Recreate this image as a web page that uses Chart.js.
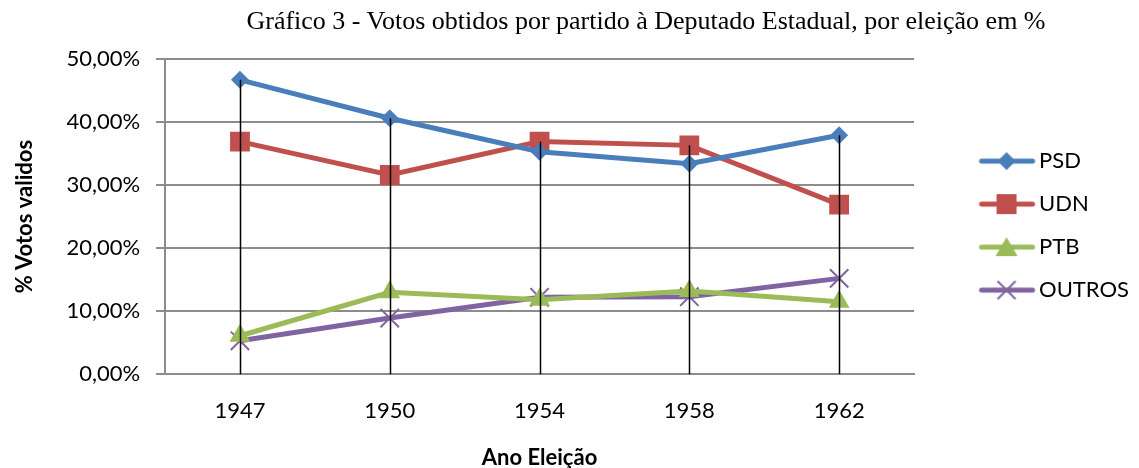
<!DOCTYPE html>
<html>
<head>
<meta charset="utf-8">
<script src="https://cdn.jsdelivr.net/npm/chart.js@4.4.1/dist/chart.umd.min.js"></script>
<style>
  html, body { margin: 0; padding: 0; background: #fff; }
  #wrap { position: relative; width: 1139px; height: 468px; }
  #titulo {
    position: absolute; top: 6px; left: 243px; width: 806px;
    font-family: "Liberation Serif", serif; font-size: 26px; color: #000;
    text-align: center; white-space: nowrap;
  }
</style>
</head>
<body>
<div id="wrap">
  <div id="titulo">Gráfico 3 - Votos obtidos por partido à Deputado Estadual, por eleição em %</div>
  <canvas id="grafico" width="1139" height="468"></canvas>
</div>
<script>
// ========== DATOS ==========
const anos = ['1947', '1950', '1954', '1958', '1962'];
const psd = [46.7, 40.6, 35.3, 33.4, 37.9];
const udn = [36.9, 31.6, 36.9, 36.3, 26.9];
const ptb = [6.1, 13.0, 11.8, 13.2, 11.5];
const outros = [5.3, 8.9, 12.2, 12.3, 15.2];

const fuente = 'Lato';

// icono de leyenda: línea con marcador al centro
function iconoLeyenda(color, tipo) {
  const c = document.createElement('canvas');
  c.width = 66; c.height = 22;
  const ctx = c.getContext('2d');
  const m = 36; // centro del marcador
  ctx.strokeStyle = color;
  ctx.lineWidth = 5;
  ctx.lineCap = 'round';
  ctx.beginPath();
  ctx.moveTo(11, 11); ctx.lineTo(62, 11);
  ctx.stroke();
  ctx.fillStyle = color;
  if (tipo === 'rombo') {
    ctx.beginPath();
    ctx.moveTo(m, 2); ctx.lineTo(m + 9, 11); ctx.lineTo(m, 20); ctx.lineTo(m - 9, 11);
    ctx.closePath(); ctx.fill();
  } else if (tipo === 'cuadro') {
    ctx.fillRect(m - 10, 1, 20, 20);
  } else if (tipo === 'triangulo') {
    ctx.beginPath();
    ctx.moveTo(m, 1); ctx.lineTo(m + 11, 20); ctx.lineTo(m - 11, 20);
    ctx.closePath(); ctx.fill();
  } else {
    ctx.lineWidth = 2;
    ctx.lineCap = 'butt';
    ctx.beginPath();
    ctx.moveTo(m - 9, 2); ctx.lineTo(m + 9, 20);
    ctx.moveTo(m + 9, 2); ctx.lineTo(m - 9, 20);
    ctx.stroke();
  }
  return c;
}

const series = [
  { label: 'PSD', data: psd, color: '#4A7EBB', estilo: 'rectRot', radio: 9, icono: 'rombo' },
  { label: 'UDN', data: udn, color: '#C0504D', estilo: 'rect', radio: 14, icono: 'cuadro' },
  { label: 'PTB', data: ptb, color: '#9BBB59', estilo: 'triangle', radio: 12, icono: 'triangulo' },
  { label: 'OUTROS', data: outros, color: '#8064A2', estilo: 'crossRot', radio: 13, icono: 'cruz' }
];

// líneas verticales negras desde 0 hasta el punto más alto
const lineasCaida = {
  id: 'lineasCaida',
  afterDatasetsDraw(chart) {
    const { ctx, scales: { x, y } } = chart;
    ctx.save();
    ctx.strokeStyle = '#000';
    ctx.lineWidth = 1.5;
    anos.forEach((a, i) => {
      const maximo = Math.max(...chart.data.datasets.map(d => d.data[i]));
      const px = Math.round(x.getPixelForValue(i)) + 0.5;
      ctx.beginPath();
      ctx.moveTo(px, y.getPixelForValue(0));
      ctx.lineTo(px, y.getPixelForValue(maximo));
      ctx.stroke();
    });
    ctx.restore();
  }
};

new Chart(document.getElementById('grafico'), {
  type: 'line',
  data: {
    labels: anos,
    datasets: series.map(s => ({
      label: s.label,
      data: s.data,
      borderColor: s.color,
      backgroundColor: s.color,
      borderWidth: 5,
      pointStyle: s.estilo,
      pointRadius: s.radio,
      pointBackgroundColor: s.color,
      pointBorderColor: s.color,
      pointBorderWidth: s.estilo === 'crossRot' ? 2 : 0,
      tension: 0,
      icono: iconoLeyenda(s.color, s.icono)
    }))
  },
  options: {
    responsive: false,
    animation: false,
    layout: { padding: { top: 59, left: 7, right: 0, bottom: 0 } },
    plugins: {
      title: { display: false },
      tooltip: { enabled: false },
      legend: {
        position: 'right',
        fullSize: false,
        title: { display: true, text: ' ', font: { size: 10 }, padding: 3 },
        labels: {
          usePointStyle: true,
          pointStyleWidth: 49,
          boxHeight: 22,
          padding: 21,
          color: '#000',
          font: { family: fuente, size: 22 },
          generateLabels(chart) {
            return chart.data.datasets.map((d, i) => ({
              text: d.label,
              pointStyle: d.icono,
              fillStyle: d.borderColor,
              strokeStyle: d.borderColor,
              lineWidth: 0,
              fontColor: '#000',
              datasetIndex: i
            }));
          }
        }
      }
    },
    scales: {
      x: {
        offset: true,
        grid: { display: false, drawTicks: false },
        border: { display: true, color: '#8c8c8c', width: 2 },
        ticks: { color: '#000', font: { family: fuente, size: 22 }, padding: 24 },
        title: {
          display: true, text: 'Ano Eleição', color: '#000',
          font: { family: fuente, size: 22, weight: 'bold' }, padding: { top: -4, bottom: -3 }
        }
      },
      y: {
        min: 0, max: 50,
        ticks: {
          stepSize: 10, color: '#000', font: { family: fuente, size: 22 }, padding: 16,
          callback: v => v.toFixed(2).replace('.', ',') + '%'
        },
        grid: { color: '#8c8c8c', lineWidth: 2, tickLength: 9 },
        border: { display: true, color: '#8c8c8c', width: 2 },
        title: {
          display: true, text: '% Votos validos', color: '#000',
          font: { family: fuente, size: 22, weight: 'bold' }, padding: { top: 5, bottom: 12 }
        }
      },
      // eje invisible que deja el hueco antes de la leyenda
      hueco: {
        position: 'right',
        grid: { display: false, drawTicks: false },
        border: { display: false },
        ticks: { display: false },
        afterFit(s) { s.width = 44; }
      }
    }
  },
  plugins: [lineasCaida]
});
</script>
</body>
</html>
